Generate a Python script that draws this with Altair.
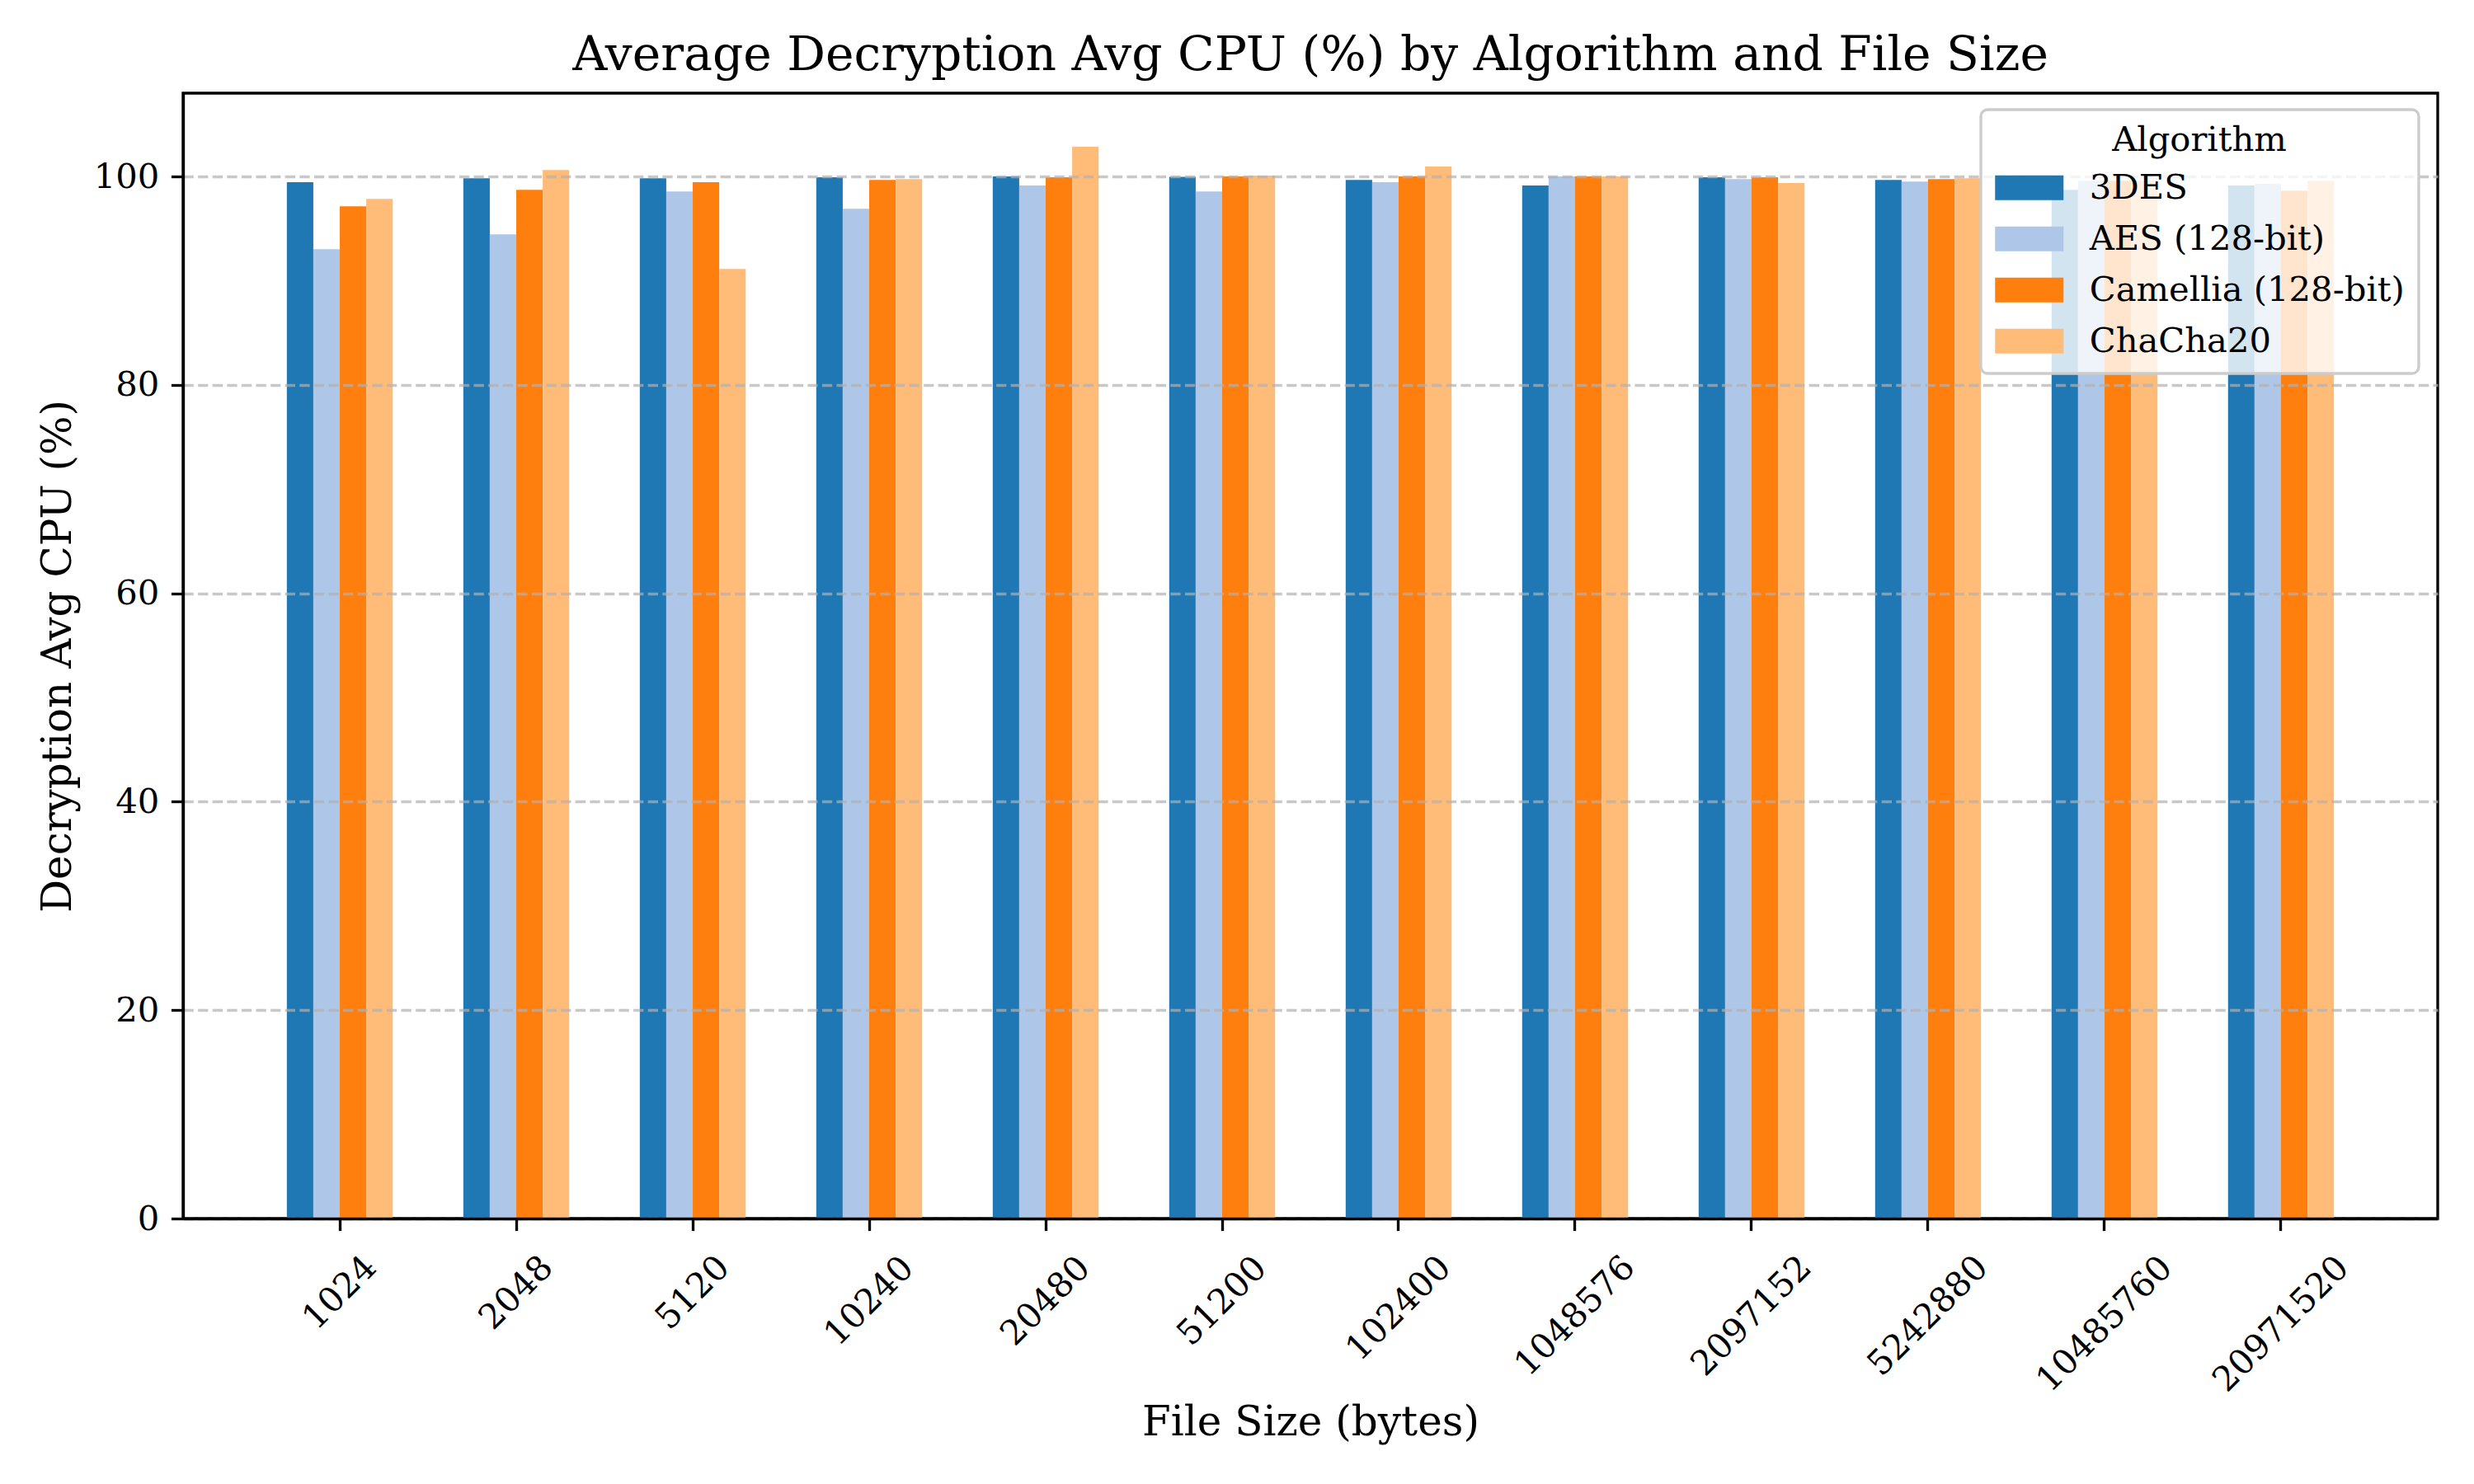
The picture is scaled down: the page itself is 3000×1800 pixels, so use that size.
import altair as alt
import pandas as pd

# ---------------- data ----------------
file_sizes = ["1024", "2048", "5120", "10240", "20480", "51200", "102400",
              "1048576", "2097152", "5242880", "10485760", "20971520"]
algorithms = ["3DES", "AES (128-bit)", "Camellia (128-bit)", "ChaCha20"]

cpu_3des = [99.45, 99.84, 99.84, 99.92, 100.00, 99.97, 99.68, 99.13, 99.92, 99.68, 98.73, 99.13]
cpu_aes = [93.03, 94.46, 98.57, 96.90, 99.13, 98.57, 99.45, 100.00, 99.76, 99.52, 99.60, 99.29]
cpu_camellia = [97.15, 98.73, 99.45, 99.68, 99.92, 100.00, 100.00, 100.00, 99.92, 99.76, 99.60, 98.65]
cpu_chacha = [97.86, 100.63, 91.13, 99.76, 102.85, 100.08, 100.95, 100.00, 99.37, 99.84, 99.60, 99.60]

colors = ["#1f77b4", "#aec7e8", "#ff7f0e", "#ffbb78"]
y_ticks = [0, 20, 40, 60, 80, 100]

rows = []
for alg, vals in zip(algorithms, [cpu_3des, cpu_aes, cpu_camellia, cpu_chacha]):
    for fs, v in zip(file_sizes, vals):
        rows.append({"File Size": fs, "Algorithm": alg, "CPU": v})
df = pd.DataFrame(rows)

# ---------------- style ----------------
FONT = "DejaVu Serif"
LW = 3.33
TICK_FS = 41.7
LABEL_FS = 50
TITLE_FS = 58.3
W, H = 2734, 1365

x_label_pad = {
    "condition": [
        {"test": "length(datum.label) == 4", "value": 75},
        {"test": "length(datum.label) == 5", "value": 85},
        {"test": "length(datum.label) == 6", "value": 94},
        {"test": "length(datum.label) == 7", "value": 103},
    ],
    "value": 113,
}

chart = alt.Chart(df).mark_bar().encode(
    x=alt.X(
        "File Size:N",
        sort=file_sizes,
        scale=alt.Scale(paddingInner=0.4, paddingOuter=0.588),
        title="File Size (bytes)",
        axis=alt.Axis(
            labelAngle=-45,
            labelAlign="center",
            labelBaseline="middle",
            labelPadding=x_label_pad,
            labelOverlap=False,
            labelBound=False,
            labelFlush=False,
            labelLimit=2000,
            labelFont=FONT,
            labelFontSize=TICK_FS,
            labelColor="black",
            tickColor="black",
            tickWidth=LW,
            tickSize=14.6,
            domainColor="black",
            domainWidth=LW,
            grid=False,
            titleFont=FONT,
            titleFontSize=LABEL_FS,
            titleFontWeight="normal",
            titleColor="black",
            titleBaseline="alphabetic",
            titleX=W / 2,
            titleY=262,
            zindex=1,
        ),
    ),
    xOffset=alt.XOffset(
        "Algorithm:N",
        sort=algorithms,
        scale=alt.Scale(paddingInner=0, paddingOuter=0),
    ),
    y=alt.Y(
        "CPU:Q",
        scale=alt.Scale(domain=[0, 108], nice=False, zero=True),
        title="Decryption Avg CPU (%)",
        axis=alt.Axis(
            values=y_ticks,
            labelFont=FONT,
            labelFontSize=TICK_FS,
            labelColor="black",
            labelPadding=14.6,
            tickColor="black",
            tickWidth=LW,
            tickSize=14.6,
            domainColor="black",
            domainWidth=LW,
            grid=True,
            gridColor="#b0b0b0",
            gridOpacity=0.7,
            gridWidth=LW,
            gridDash=[12.3, 5.3],
            titleFont=FONT,
            titleFontSize=LABEL_FS,
            titleFontWeight="normal",
            titleColor="black",
            titleAngle=-90,
            titleAlign="center",
            titleBaseline="alphabetic",
            titleX=-137,
            titleY=H / 2,
            zindex=1,
        ),
    ),
    color=alt.Color(
        "Algorithm:N",
        sort=algorithms,
        scale=alt.Scale(domain=algorithms, range=colors),
        legend=alt.Legend(
            title="Algorithm",
            orient="none",
            legendX=2180,
            legendY=20,
            padding=17,
            fillColor="rgba(255,255,255,0.8)",
            strokeColor="#cccccc",
            cornerRadius=8,
            titleFont=FONT,
            titleFontSize=TICK_FS,
            titleFontWeight="normal",
            titleColor="black",
            titleAnchor="middle",
            titleBaseline="top",
            titlePadding=15,
            titleLimit=2000,
            labelFont=FONT,
            labelFontSize=TICK_FS,
            labelColor="black",
            labelLimit=2000,
            labelOffset=52,
            symbolType="M-2,-0.72H2V0.72H-2Z",
            symbolSize=1722,
            symbolOffset=20.75,
            symbolStrokeWidth=0,
            symbolOpacity=1,
            rowPadding=19,
            zindex=2,
        ),
    ),
).properties(
    width=W,
    height=H,
    background="white",
    autosize=alt.AutoSizeParams(type="none"),
    padding={"left": 214, "top": 105, "right": 36, "bottom": 314},
    title=alt.TitleParams(
        "Average Decryption Avg CPU (%) by Algorithm and File Size",
        font=FONT,
        fontSize=TITLE_FS,
        fontWeight="normal",
        color="black",
        anchor="middle",
        frame="group",
        baseline="alphabetic",
        offset=-30,
    ),
).configure_view(
    stroke="black",
    strokeWidth=LW,
).configure_legend(
    strokeWidth=LW,
)

chart.save("out.html", embed_options={"renderer": "svg", "actions": False})
